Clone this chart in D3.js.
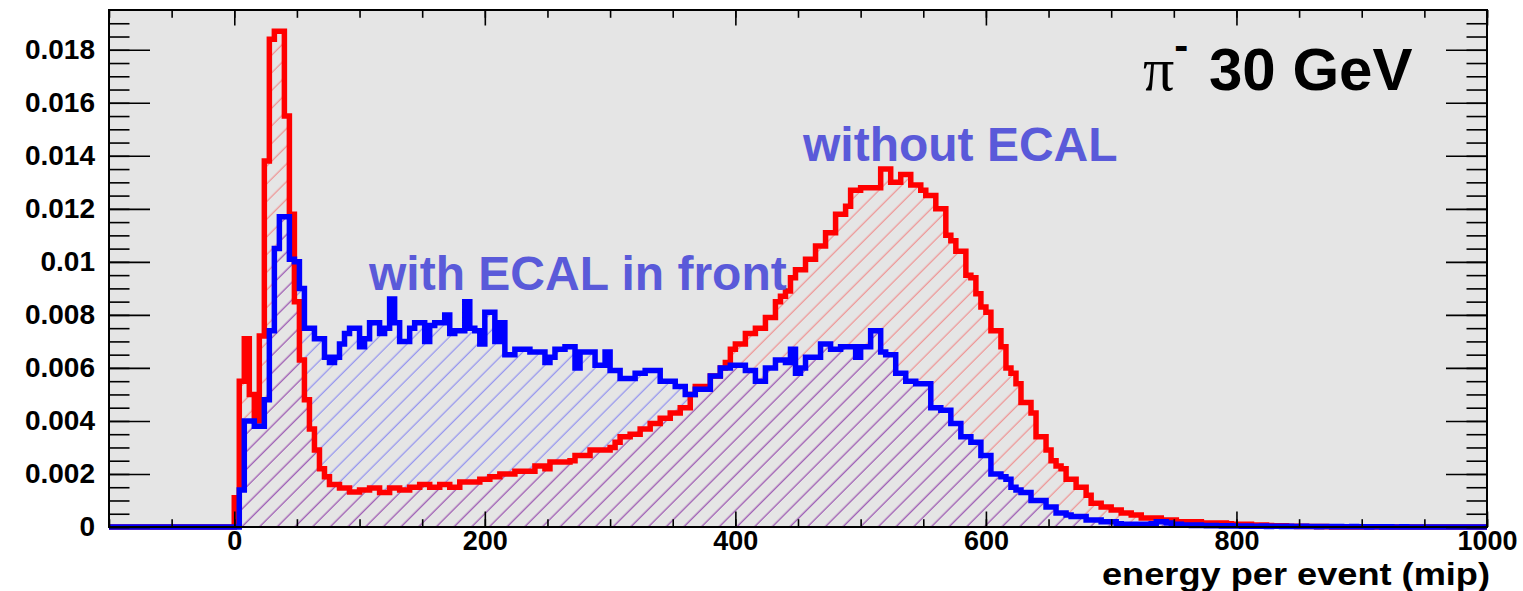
<!DOCTYPE html>
<html>
<head>
<meta charset="utf-8">
<script src="https://cdn.jsdelivr.net/npm/d3@7"></script>
<style>
  body { margin: 0; background: #ffffff; }
  svg { display: block; }
  text { font-family: "Liberation Sans", Arial, Helvetica, sans-serif; font-weight: bold; }
</style>
</head>
<body>
<svg id="chart" width="1523" height="591"></svg>
<script>
// Histogram binning (mip): 4-mip bins, axis from -100 to 1000
const binWidth = 4;
const axisMin = -100;
const axisMax = 1000;

// Normalised energy sum per event, bins starting at 0 mip
const withoutEcal = [
  0.0011,0.0055,0.0071,0.0050,0.0040,0.0072,0.0138,0.0184,0.0187,0.0187,
  0.0155,0.0118,0.0085,0.0063,0.0048,0.0037,0.0029,0.0022,0.0019,0.0016,
  0.0016,0.00147,0.00147,0.00132,0.00132,0.0014,0.0014,0.00147,0.00147,0.0013,
  0.0013,0.00147,0.00147,0.0014,0.0014,0.0015,0.0015,0.0016,0.0016,0.0015,
  0.0015,0.0016,0.0016,0.0015,0.0015,0.0017,0.0017,0.0017,0.0017,0.0018,
  0.0018,0.0019,0.0019,0.0020,0.0020,0.0020,0.0021,0.0021,0.0021,0.0021,
  0.0023,0.0023,0.0022,0.00245,0.00245,0.00245,0.00245,0.0025,0.0027,0.0027,
  0.0027,0.0029,0.0029,0.0029,0.0029,0.0030,0.0032,0.0034,0.0034,0.0035,
  0.0035,0.0037,0.0037,0.0039,0.0039,0.0041,0.0041,0.0043,0.0043,0.0045,
  0.0045,0.0050,0.0053,0.0053,0.0053,0.0057,0.0057,0.0060,0.0062,0.0067,
  0.0069,0.0069,0.0073,0.0073,0.0075,0.0075,0.0079,0.0079,0.0085,0.0087,
  0.0089,0.0094,0.0097,0.0097,0.0101,0.0101,0.0106,0.0106,0.0111,0.0111,
  0.0118,0.0118,0.0121,0.0127,0.0127,0.0128,0.0128,0.0128,0.0128,0.0135,
  0.0135,0.0130,0.0130,0.0133,0.0133,0.0129,0.0129,0.0127,0.0125,0.0125,
  0.0120,0.0120,0.0110,0.0108,0.0104,0.0104,0.0095,0.0094,0.0088,0.0083,
  0.0081,0.0074,0.0074,0.0068,0.0060,0.0058,0.0054,0.0047,0.0047,0.0043,
  0.0034,0.0034,0.0029,0.0025,0.0023,0.0022,0.0018,0.0018,0.0015,0.0015,
  0.0012,0.0009,0.0009,0.00075,0.00075,0.00064,0.00064,0.00053,0.00053,0.00045,
  0.00045,0.00034,0.00034,0.00034,0.00034,0.00026,0.00026,0.00026,0.0002,0.0002,
  0.0002,0.0002,0.0002,0.00015,0.00015,0.00015,0.00012,0.00015,0.00012,0.0001,
  0.0001,0.00008,0.0001,0.00008,0.00006,0.00008,0.00006,0.00005,0.00004,0.00005,
  0.00003,0.00003,0.00002,0.00003,0.00002,0.00002,0.00001,0.00002,0.00001,0,
  0.00001,0,0,0,0,0,0,0,0,0,
  0,0,0,0,0,0,0,0,0,0,
  0,0,0,0,0,0,0,0,0,0
];

const withEcal = [
  0,0.0014,0.0040,0.0040,0.0038,0.0038,0.0048,0.0074,0.0105,0.0117,
  0.0117,0.0101,0.0100,0.0090,0.0075,0.0075,0.0071,0.0071,0.0064,0.0062,
  0.0064,0.0069,0.0073,0.0075,0.0075,0.0068,0.0071,0.0077,0.0077,0.0073,
  0.0075,0.0086,0.0077,0.0070,0.0070,0.0075,0.0077,0.0077,0.0070,0.0076,
  0.0077,0.0077,0.0080,0.0073,0.0074,0.0074,0.0085,0.0075,0.0074,0.0069,
  0.0081,0.0081,0.0070,0.0077,0.0065,0.0065,0.0067,0.0067,0.0067,0.0066,
  0.0066,0.0066,0.0062,0.0064,0.0067,0.0067,0.0068,0.0068,0.0060,0.0066,
  0.0066,0.0066,0.0061,0.0061,0.0066,0.0059,0.0059,0.0056,0.0056,0.0056,
  0.0058,0.0058,0.0059,0.0059,0.0059,0.0055,0.0055,0.0055,0.0053,0.0053,
  0.0050,0.0050,0.0052,0.0052,0.0052,0.0057,0.0057,0.0060,0.0060,0.0061,
  0.0061,0.0061,0.0059,0.0059,0.0055,0.0055,0.0060,0.0060,0.0063,0.0063,
  0.0062,0.0067,0.0058,0.0060,0.0064,0.0064,0.0064,0.0069,0.0069,0.0067,
  0.0067,0.0068,0.0068,0.0068,0.0064,0.0068,0.0068,0.0074,0.0074,0.0066,
  0.0065,0.0065,0.0058,0.0058,0.0055,0.0055,0.0054,0.0054,0.0054,0.0045,
  0.0045,0.0044,0.0044,0.0039,0.0039,0.0034,0.0034,0.0032,0.0032,0.0027,
  0.0027,0.0020,0.0020,0.0019,0.0018,0.0015,0.0014,0.0013,0.0013,0.0010,
  0.0010,0.0010,0.00075,0.00075,0.00053,0.00053,0.00045,0.0004,0.0004,0.0004,
  0.00026,0.00026,0.00026,0.0002,0.0002,0.0002,0.00012,0.0001,0.0001,0.0001,
  0.0001,0.0001,0.0001,0.00012,0.0002,0.0002,0.00015,0.0001,0.0001,0.00008,
  0.00008,0.00006,0.00008,0.00006,0.00005,0.00006,0.00005,0.00004,0.00005,0.00004,
  0.00004,0.00003,0.00004,0.00003,0.00003,0.00004,0.00002,0.00003,0.00003,0.00002,
  0.00003,0.00002,0.00002,0.00003,0.00002,0.00002,0.00001,0.00002,0.00002,0.00001,
  0.00002,0.00001,0.00001,0.00002,0.00001,0.00001,0,0.00001,0.00001,0,
  0.00001,0,0,0.00001,0,0,0,0,0,0,
  0,0,0,0,0,0,0,0,0,0
];

// Axis ticks and labels
const xTickValues = [0, 200, 400, 600, 800, 1000];
const xTickLabels = ["0", "200", "400", "600", "800", "1000"];
const xMinorStep = 50;
const yTickValues = [0, 0.002, 0.004, 0.006, 0.008, 0.010, 0.012, 0.014, 0.016, 0.018];
const yTickLabels = ["0", "0.002", "0.004", "0.006", "0.008", "0.01", "0.012", "0.014", "0.016", "0.018"];
const yMinorStep = 0.0005;
const yMax = 0.0195;

const xTitle = "energy per event (mip)";
const labelWithout = "without ECAL";
const labelWith = "with ECAL in front";

// ---- layout ----
const frame = { left: 109, right: 1487, top: 10, bottom: 527 };
const svg = d3.select("#chart");

const x = d3.scaleLinear().domain([axisMin, axisMax]).range([frame.left, frame.right]);
const y = d3.scaleLinear().domain([0, yMax]).range([frame.bottom, frame.top]);

const defs = svg.append("defs");
// histogram lines may spill a few pixels below the frame bottom
defs.append("clipPath").attr("id", "plot-clip")
  .append("rect")
  .attr("x", frame.left).attr("y", frame.top)
  .attr("width", frame.right - frame.left).attr("height", frame.bottom - frame.top + 4);

// Diagonal hatch fills
function hatch(id, color) {
  const p = defs.append("pattern")
    .attr("id", id)
    .attr("patternUnits", "userSpaceOnUse")
    .attr("width", 12.5).attr("height", 12.5)
    .attr("patternTransform", "rotate(-45)");
  p.append("line")
    .attr("x1", -1).attr("y1", 6).attr("x2", 13.5).attr("y2", 6)
    .attr("stroke", color).attr("stroke-width", 1).attr("stroke-opacity", 0.45);
}
hatch("hatch-red", "#ff0000");
hatch("hatch-blue", "#0000ff");

// Frame background
svg.append("rect")
  .attr("x", frame.left).attr("y", frame.top)
  .attr("width", frame.right - frame.left).attr("height", frame.bottom - frame.top)
  .attr("fill", "#e5e5e5");

// Step outline points: empty range below 0, then one point per bin edge
function stepPoints(values) {
  const pts = [{ e: axisMin, v: 0 }];
  values.forEach((v, i) => pts.push({ e: i * binWidth, v }));
  pts.push({ e: values.length * binWidth, v: values[values.length - 1] });
  return pts;
}

const area = d3.area().curve(d3.curveStepAfter)
  .x(d => x(d.e)).y0(y(0)).y1(d => y(d.v));
const line = d3.line().curve(d3.curveStepAfter)
  .x(d => x(d.e)).y(d => y(d.v));

const plot = svg.append("g").attr("clip-path", "url(#plot-clip)");
const redPts = stepPoints(withoutEcal);
const bluePts = stepPoints(withEcal);

plot.append("path").datum(redPts).attr("d", area).attr("fill", "url(#hatch-red)");
plot.append("path").datum(bluePts).attr("d", area).attr("fill", "url(#hatch-blue)");
plot.append("path").datum(redPts).attr("d", line)
  .attr("fill", "none").attr("stroke", "#ff0000").attr("stroke-width", 5.5);
plot.append("path").datum(bluePts).attr("d", line)
  .attr("fill", "none").attr("stroke", "#0000ff").attr("stroke-width", 5.5);

// ---- axes (ticks on all four sides, pointing inward) ----
const majorX = 15.5, minorX = 7.8;
const majorY = 41, minorY = 20.5;
const xMinor = d3.range(axisMin, axisMax + 1, xMinorStep);
const yMinor = d3.range(0, yMax, yMinorStep);

function styleAxis(g) {
  g.select(".domain").remove();
  g.selectAll(".tick line").attr("stroke", "#000").attr("stroke-width", 1.6);
  g.selectAll(".tick text")
    .attr("fill", "#000")
    .style("font-family", '"Liberation Sans", Arial, Helvetica, sans-serif')
    .style("font-weight", "bold")
    .style("font-size", "27px");
}

// bottom
svg.append("g").attr("transform", `translate(0,${frame.bottom})`)
  .call(d3.axisBottom(x).tickValues(xMinor).tickSize(-minorX).tickFormat(""))
  .call(styleAxis);
svg.append("g").attr("transform", `translate(0,${frame.bottom})`)
  .call(d3.axisBottom(x).tickValues(xTickValues).tickSize(-majorX).tickPadding(4)
    .tickFormat((d, i) => xTickLabels[i]))
  .call(styleAxis);
// top
svg.append("g").attr("transform", `translate(0,${frame.top})`)
  .call(d3.axisTop(x).tickValues(xMinor).tickSize(-minorX).tickFormat(""))
  .call(styleAxis);
svg.append("g").attr("transform", `translate(0,${frame.top})`)
  .call(d3.axisTop(x).tickValues(xTickValues).tickSize(-majorX).tickFormat(""))
  .call(styleAxis);
// left
svg.append("g").attr("transform", `translate(${frame.left},0)`)
  .call(d3.axisLeft(y).tickValues(yMinor).tickSize(-minorY).tickFormat(""))
  .call(styleAxis);
svg.append("g").attr("transform", `translate(${frame.left},0)`)
  .call(d3.axisLeft(y).tickValues(yTickValues).tickSize(-majorY).tickPadding(14)
    .tickFormat((d, i) => yTickLabels[i]))
  .call(styleAxis)
  .call(g => g.selectAll(".tick text").style("font-size", "28px"));
// right
svg.append("g").attr("transform", `translate(${frame.right},0)`)
  .call(d3.axisRight(y).tickValues(yMinor).tickSize(-minorY).tickFormat(""))
  .call(styleAxis);
svg.append("g").attr("transform", `translate(${frame.right},0)`)
  .call(d3.axisRight(y).tickValues(yTickValues).tickSize(-majorY).tickFormat(""))
  .call(styleAxis);

// Frame border
svg.append("rect")
  .attr("x", frame.left).attr("y", frame.top)
  .attr("width", frame.right - frame.left).attr("height", frame.bottom - frame.top)
  .attr("fill", "none").attr("stroke", "#000").attr("stroke-width", 2);

// ---- texts ----
svg.append("text")
  .attr("x", frame.right + 3).attr("y", 585)
  .attr("text-anchor", "end")
  .attr("textLength", 388)
  .attr("lengthAdjust", "spacingAndGlyphs")
  .style("font-size", "32px")
  .attr("fill", "#000")
  .text(xTitle);

svg.append("text")
  .attr("x", 369).attr("y", 290)
  .style("font-size", "48px")
  .attr("fill", "#5a5ad9")
  .text(labelWith);

svg.append("text")
  .attr("x", 803).attr("y", 161)
  .style("font-size", "48px")
  .attr("fill", "#5a5ad9")
  .text(labelWithout);

// Beam label: pi-minus, 30 GeV
const beam = svg.append("text").attr("x", 1143).attr("y", 90).attr("fill", "#000");
beam.append("tspan")
  .style("font-family", '"Liberation Serif", "Times New Roman", serif')
  .style("font-weight", "normal")
  .style("font-size", "62px")
  .text("π");
beam.append("tspan")
  .attr("dy", -30)
  .style("font-size", "42px")
  .text("-");
beam.append("tspan")
  .attr("dy", 30)
  .attr("dx", 4)
  .style("font-size", "60px")
  .text(" 30 GeV");
</script>
</body>
</html>
